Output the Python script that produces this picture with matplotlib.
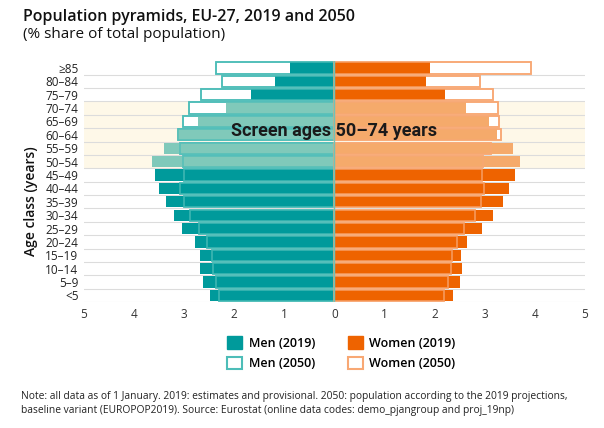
import matplotlib.pyplot as plt
from matplotlib.patches import Patch

plt.rcParams['font.family'] = ['Open Sans', 'DejaVu Sans']

ages = ['<5', '5\u20139', '10\u201314', '15\u201319', '20\u201324', '25\u201329', '30\u201334',
        '35\u201339', '40\u201344', '45\u201349', '50\u201354', '55\u201359', '60\u201364',
        '65\u201369', '70\u201374', '75\u201379', '80\u201384', '\u226585']
men_2019 = [2.48, 2.62, 2.68, 2.68, 2.78, 3.04, 3.2, 3.36, 3.5, 3.58, 3.64, 3.4, 3.14,
            2.72, 2.16, 1.66, 1.18, 0.88]
men_2050 = [2.3, 2.36, 2.42, 2.44, 2.54, 2.7, 2.88, 3.0, 3.08, 3.0, 3.02, 3.08, 3.12,
            3.02, 2.9, 2.66, 2.24, 2.36]
women_2019 = [2.36, 2.5, 2.54, 2.52, 2.64, 2.94, 3.16, 3.36, 3.48, 3.6, 3.7, 3.56, 3.24,
              3.08, 2.62, 2.2, 1.82, 1.9]
women_2050 = [2.18, 2.26, 2.32, 2.34, 2.44, 2.58, 2.8, 2.92, 2.98, 2.94, 2.96, 3.12, 3.32,
              3.28, 3.26, 3.16, 2.9, 3.92]
screen_rows = ['50\u201354', '55\u201359', '60\u201364', '65\u201369', '70\u201374']

teal = '#009a9b'
teal_light = '#80c9ba'
teal_edge = '#4dbdb8'
orange = '#ee6300'
orange_light = '#f5aa6b'
orange_edge = '#f8a874'
cream = '#fef8e8'

fig = plt.figure(figsize=(6.04, 4.28), dpi=100)
ax = fig.add_axes([0.139, 0.294, 0.8295, 0.563])

y = list(range(len(ages)))
h = 0.84
screen = [a in screen_rows for a in ages]

# background band and row separators
for i in y:
    if screen[i]:
        ax.axhspan(i - 0.5, i + 0.5, color=cream, zorder=0, lw=0)
    ax.axhline(i - 0.5, color='#dcdcdc', lw=0.8, zorder=0.5)

mc = [teal_light if s else teal for s in screen]
wc = [orange_light if s else orange for s in screen]

# 2050 white boxes, then 2019 filled, then 2050 outlines again
ax.barh(y, [-v for v in men_2050], height=h, color='white', edgecolor=teal_edge, lw=1.2, zorder=1)
ax.barh(y, women_2050, height=h, color='white', edgecolor=orange_edge, lw=1.2, zorder=1)
ax.barh(y, [-v for v in men_2019], height=h, color=mc, lw=0, zorder=2)
ax.barh(y, women_2019, height=h, color=wc, lw=0, zorder=2)
ax.barh(y, [-v for v in men_2050], height=h, fill=False, edgecolor=teal_edge, lw=1.2, alpha=0.8, zorder=3)
ax.barh(y, women_2050, height=h, fill=False, edgecolor=orange_edge, lw=1.2, alpha=0.8, zorder=3)
ax.axvline(0, color='#6fc3b8', lw=1.0, zorder=4)

ax.set_xlim(-5, 5)
ax.set_ylim(-0.5, len(ages) - 0.5)
ax.set_xticks(range(-5, 6))
ax.set_xticklabels([str(abs(t)) for t in range(-5, 6)], color='#333333', fontsize=8.5)
ax.set_yticks(y)
ax.set_yticklabels(ages, fontsize=8.5, color='#222222')
ax.tick_params(length=0, pad=4)
for s in ax.spines.values():
    s.set_visible(False)

fig.text(0.052, 0.53, 'Age class (years)', rotation=90, ha='center', va='center',
         fontsize=10, fontweight='semibold', color='#111111')

ax.text(0, 12.25, 'Screen ages 50\u201374 years', ha='center', va='center', fontsize=13,
        fontweight='bold', color='#1a1a1a', family=['Roboto', 'DejaVu Sans'], zorder=5)

fig.text(0.038, 0.952, 'Population pyramids, EU-27, 2019 and 2050', fontsize=11.5,
         fontweight='semibold', color='#111111')
fig.text(0.038, 0.912, '(% share of total population)', fontsize=11, color='#111111')

handles = [Patch(facecolor=teal, edgecolor=teal),
           Patch(facecolor='white', edgecolor=teal_edge, lw=1.5),
           Patch(facecolor=orange, edgecolor=orange),
           Patch(facecolor='white', edgecolor=orange_edge, lw=1.5)]
labels = ['Men (2019)', 'Men (2050)', 'Women (2019)', 'Women (2050)']
fig.legend(handles, labels, ncol=2, loc='center', bbox_to_anchor=(0.565, 0.175),
           frameon=False, columnspacing=2.6, handlelength=1.2, handletextpad=0.5,
           handleheight=1.2, labelspacing=0.55, prop={'weight': 'semibold', 'size': 9})

fig.text(0.035, 0.058, 'Note: all data as of 1 January. 2019: estimates and provisional. '
         '2050: population according to the 2019 projections,\nbaseline variant (EUROPOP2019). '
         'Source: Eurostat (online data codes: demo_pjangroup and proj_19np)',
         fontsize=7.35, color='#222222', va='center', linespacing=1.4)

fig.savefig('out.png', dpi=100)
